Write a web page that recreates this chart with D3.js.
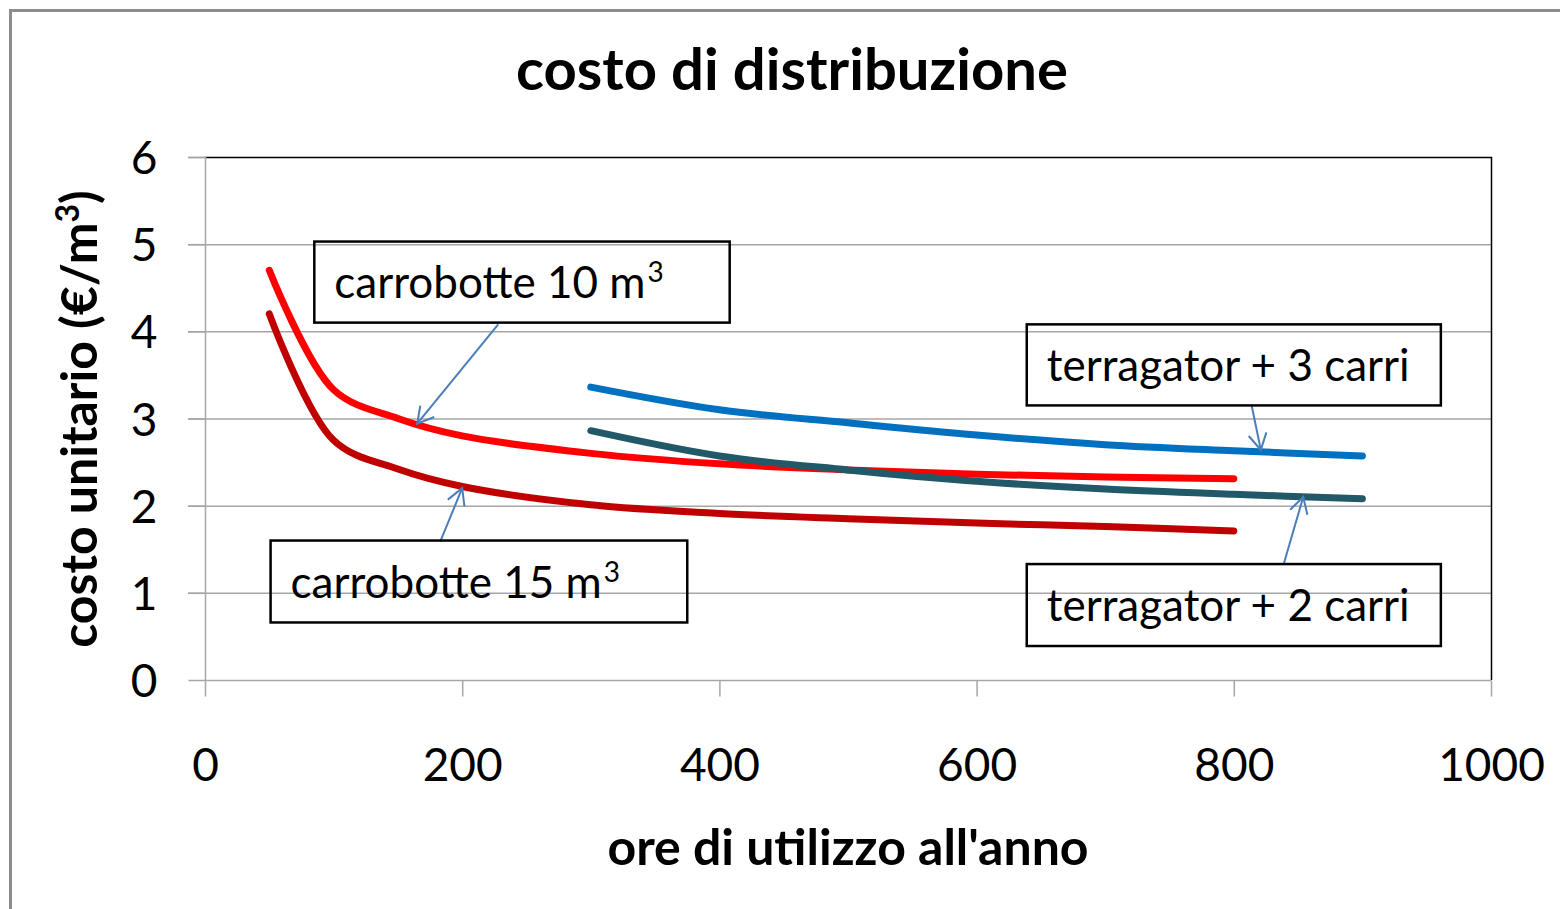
<!DOCTYPE html>
<html>
<head>
<meta charset="utf-8">
<script src="https://cdn.jsdelivr.net/npm/d3@7"></script>
<style>
  body { margin: 0; background: #fff; }
  svg text { font-family: Lato, "Open Sans", sans-serif; fill: #000; }
</style>
</head>
<body>
<div id="container"></div>
<script>
/* CONSTANTS AND GLOBALS */
const width = 1560, height = 909;
const margin = {top: 157, bottom: 229, left: 205, right: 69};

// data (hours per year -> €/m3)
const hours10 = [50, 100, 150, 200, 300, 400, 500, 600, 700, 800];
const cost10 = [4.7, 3.33, 3.0, 2.8, 2.6, 2.48, 2.41, 2.36, 2.33, 2.31];
const hours15 = [50, 100, 150, 200, 300, 400, 500, 600, 700, 800];
const cost15 = [4.2, 2.75, 2.42, 2.22, 2.01, 1.91, 1.85, 1.80, 1.76, 1.71];
const hoursT = [300, 400, 500, 600, 700, 800, 900];
const costT3 = [3.36, 3.1, 2.95, 2.81, 2.7, 2.63, 2.57];
const costT2 = [2.86, 2.57, 2.41, 2.28, 2.19, 2.13, 2.08];

const xTicks = [0, 200, 400, 600, 800, 1000];
const yTicks = [0, 1, 2, 3, 4, 5, 6];

const seriesNames = ["carrobotte 10", "carrobotte 15", "terragator + 3 carri", "terragator + 2 carri"];
const seriesColors = ["#FF0000", "#C00000", "#0070C0", "#215968"];

// callout labels
const calloutText = ["carrobotte 10 m", "carrobotte 15 m", "terragator + 3 carri", "terragator + 2 carri"];
const calloutSup = ["3", "3", "", ""];

const series = [
  hours10.map((h, i) => ({x: h, y: cost10[i]})),
  hours15.map((h, i) => ({x: h, y: cost15[i]})),
  hoursT.map((h, i) => ({x: h, y: costT3[i]})),
  hoursT.map((h, i) => ({x: h, y: costT2[i]}))
];

/* SCALES */
const xScale = d3.scaleLinear().domain([0, 1000]).range([margin.left, width - margin.right]);
const yScale = d3.scaleLinear().domain([0, 6]).range([height - margin.bottom, margin.top]);

const svg = d3.select("#container").append("svg")
  .attr("width", width).attr("height", height);

// outer chart frame
svg.append("rect")
  .attr("x", 10.5).attr("y", 10.5)
  .attr("width", width).attr("height", height)
  .attr("fill", "none").attr("stroke", "#8c8c8c").attr("stroke-width", 3);

// gridlines
svg.append("g").selectAll("line")
  .data(yTicks.filter(d => d > 0 && d < 6))
  .join("line")
  .attr("x1", margin.left - 17).attr("x2", xScale(1000))
  .attr("y1", d => yScale(d) + 0.5).attr("y2", d => yScale(d) + 0.5)
  .attr("stroke", "#a6a6a6").attr("stroke-width", 1.5);

// plot frame: top/right black, left/bottom gray axes
svg.append("line").attr("x1", margin.left - 17).attr("x2", margin.left)
  .attr("y1", yScale(6) + 0.5).attr("y2", yScale(6) + 0.5)
  .attr("stroke", "#a6a6a6").attr("stroke-width", 1.5);
svg.append("path")
  .attr("d", `M${xScale(0)},${yScale(6) + 0.5}H${xScale(1000) + 0.5}V${yScale(0)}`)
  .attr("fill", "none").attr("stroke", "#000").attr("stroke-width", 1.5);

// axes
const yAxis = d3.axisLeft(yScale).tickValues(yTicks).tickFormat(d3.format("d")).tickSize(17);
const xAxis = d3.axisBottom(xScale).tickValues(xTicks).tickFormat(d3.format("d")).tickSize(16);

const yAxisGroup = svg.append("g")
  .attr("transform", `translate(${margin.left + 0.5},0)`)
  .call(yAxis);
const xAxisGroup = svg.append("g")
  .attr("transform", `translate(0,${yScale(0) + 0.5})`)
  .call(xAxis);

[yAxisGroup, xAxisGroup].forEach(g => {
  g.select(".domain").attr("stroke", "#a6a6a6").attr("stroke-width", 1.5);
  g.selectAll(".tick line").attr("stroke", "#a6a6a6").attr("stroke-width", 1.5);
  g.selectAll(".tick text").attr("font-size", 46).attr("font-family", "Lato, sans-serif").attr("fill", "#000");
});
yAxisGroup.selectAll(".tick text").attr("x", -48).attr("dy", "0.36em");
xAxisGroup.selectAll(".tick text").attr("y", 100).attr("dy", 0);
yAxisGroup.select(".domain").attr("d", `M0,${yScale(6)}V${yScale(0)}`);
xAxisGroup.select(".domain").attr("d", `M${xScale(0)},0H${xScale(1000)}`);

// lines
const line = d3.line()
  .x(d => xScale(d.x)).y(d => yScale(d.y))
  .curve(d3.curveCatmullRom.alpha(0.5));

svg.append("g").selectAll("path")
  .data(series)
  .join("path")
  .attr("d", line)
  .attr("fill", "none")
  .attr("stroke", (d, i) => seriesColors[i])
  .attr("stroke-width", 7)
  .attr("stroke-linecap", "round")
  .attr("stroke-linejoin", "round");

// callout boxes and arrows (positions in data units)
const boxes = [
  {x0: 85, x1: 408, y0: 5.03, y1: 4.1, ax: 228, ay: 4.08, tx: 165, ty: 2.94},
  {x0: 51, x1: 375, y0: 1.6, y1: 0.66, ax: 183, ay: 1.59, tx: 200, ty: 2.2},
  {x0: 639, x1: 961, y0: 4.08, y1: 3.15, ax: 814, ay: 3.14, tx: 821, ty: 2.64},
  {x0: 639, x1: 961, y0: 1.33, y1: 0.39, ax: 839, ay: 1.34, tx: 854, ty: 2.1}
];

const defs = svg.append("defs");
defs.append("marker")
  .attr("id", "arrow")
  .attr("viewBox", "-18 -11 20 22")
  .attr("refX", 0).attr("refY", 0)
  .attr("markerWidth", 20).attr("markerHeight", 22)
  .attr("markerUnits", "userSpaceOnUse")
  .attr("orient", "auto")
  .append("path")
  .attr("d", "M-16,-9L0,0L-16,9")
  .attr("fill", "none").attr("stroke", "#4a7ebb").attr("stroke-width", 2);

const callouts = svg.append("g").selectAll("g")
  .data(boxes)
  .join("g");

callouts.append("line")
  .attr("x1", d => xScale(d.ax)).attr("y1", d => yScale(d.ay))
  .attr("x2", d => xScale(d.tx)).attr("y2", d => yScale(d.ty))
  .attr("stroke", "#4a7ebb").attr("stroke-width", 2)
  .attr("marker-end", "url(#arrow)");

callouts.append("rect")
  .attr("x", d => xScale(d.x0)).attr("y", d => yScale(d.y0))
  .attr("width", d => xScale(d.x1) - xScale(d.x0))
  .attr("height", d => yScale(d.y1) - yScale(d.y0))
  .attr("fill", "none").attr("stroke", "#000").attr("stroke-width", 2.5);

const labels = callouts.append("text")
  .attr("x", d => xScale(d.x0) + 20)
  .attr("y", d => (yScale(d.y0) + yScale(d.y1)) / 2 + 16)
  .attr("font-size", 44);
labels.append("tspan").text((d, i) => calloutText[i]);
labels.append("tspan")
  .attr("font-size", 28).attr("dx", 2).attr("dy", -16)
  .text((d, i) => calloutSup[i]);

// titles
svg.append("text")
  .attr("x", 792).attr("y", 90)
  .attr("text-anchor", "middle")
  .attr("font-size", 58).attr("font-weight", "bold")
  .text("costo di distribuzione");

svg.append("text")
  .attr("x", 848).attr("y", 865)
  .attr("text-anchor", "middle")
  .attr("font-size", 50).attr("font-weight", "bold")
  .text("ore di utilizzo all'anno");

const yTitle = svg.append("text")
  .attr("transform", `translate(97,419) rotate(-90)`)
  .attr("text-anchor", "middle")
  .attr("font-size", 50).attr("font-weight", "bold");
yTitle.append("tspan").text("costo unitario (€/m");
yTitle.append("tspan").attr("font-size", 32).attr("dy", -18).text("3");
yTitle.append("tspan").attr("dy", 18).text(")");
</script>
</body>
</html>
